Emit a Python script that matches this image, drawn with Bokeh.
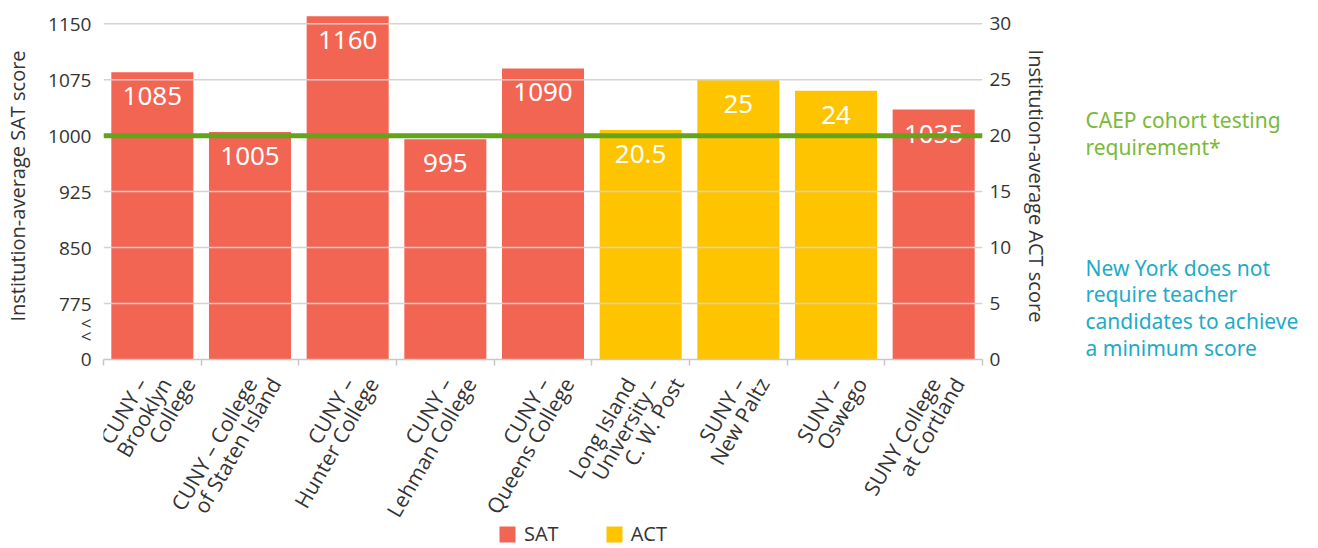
from bokeh.plotting import figure
from bokeh.layouts import row, column
from bokeh.models import (Range1d, LinearAxis, FixedTicker, Label, Legend, LegendItem,
                          ColumnDataSource, Span)
from bokeh.core.properties import value
from bokeh.embed import file_html
from bokeh.resources import INLINE
import math

# ---- data ----
schools = ["CUNY –\nBrooklyn\nCollege", "CUNY – College\nof Staten Island", "CUNY –\nHunter College",
           "CUNY –\nLehman College", "CUNY –\nQueens College", "Long Island\nUniversity –\nC. W. Post",
           "SUNY –\nNew Paltz", "SUNY –\nOswego", "SUNY College\nat Cortland"]
tests = ["SAT", "SAT", "SAT", "SAT", "SAT", "ACT", "ACT", "ACT", "SAT"]
scores = [1085, 1005, 1160, 995, 1090, 20.5, 25, 24, 1035]
sat_ticks = [700, 775, 850, 925, 1000, 1075, 1150]
sat_tick_labels = ["0", "775", "850", "925", "1000", "1075", "1150"]
act_ticks = [0, 5, 10, 15, 20, 25, 30]
caep_sat = 1000
caep_text = "CAEP cohort testing\nrequirement*"
ny_text = "New York does not\nrequire teacher\ncandidates to achieve\na minimum score"

SAT_COLOR = "#F26552"
ACT_COLOR = "#FFC400"
GREEN = "#62A51B"
FONT = "Open Sans"
FONT2 = "Noto Sans"
GRAY = "#C8C8C8"

n = len(schools)
pos = [i + 0.5 for i in range(n)]
sat_src = ColumnDataSource(dict(
    x=[p_ for p_, t in zip(pos, tests) if t == "SAT"],
    top=[s for s, t in zip(scores, tests) if t == "SAT"],
    lab=[str(s) for s, t in zip(scores, tests) if t == "SAT"]))
act_src = ColumnDataSource(dict(
    x=[p_ for p_, t in zip(pos, tests) if t == "ACT"],
    top=[s for s, t in zip(scores, tests) if t == "ACT"],
    lab=[("%g" % s) for s, t in zip(scores, tests) if t == "ACT"]))

BL, BR = 103, 95
BT, BB = 12, 12
MAIN_W, MAIN_H = BL + 879 + BR, BT + 347 + BB
BOT_H = 176
SIDE_W = 1300 - MAIN_W

# ---------------- main chart ----------------
p = figure(width=MAIN_W, height=MAIN_H, output_backend="svg", toolbar_location=None,
           x_range=Range1d(0, n), y_range=Range1d(700, 1165),
           min_border_left=BL, min_border_right=BR, min_border_top=BT, min_border_bottom=BB,
           x_axis_location=None, y_axis_location=None)
p.outline_line_color = None
p.extra_y_ranges = {"act": Range1d(0, 31)}
p.xgrid.visible = False
p.ygrid.visible = False

for t in sat_ticks[1:]:
    p.add_layout(Span(location=t, dimension="width", line_color="#D3D3D3", line_width=1.5))

overrides = {t: l for t, l in zip(sat_ticks, sat_tick_labels)}
overrides[749] = "<"
overrides[731] = "<"
left = LinearAxis(ticker=FixedTicker(ticks=sat_ticks + [749, 731]),
                  major_label_overrides=overrides,
                  axis_label="Institution-average SAT score")
right = LinearAxis(y_range_name="act", ticker=FixedTicker(ticks=act_ticks),
                   axis_label="Institution-average ACT score")
for ax in (left, right):
    ax.axis_line_color = None
    ax.major_tick_line_color = None
    ax.minor_tick_line_color = None
    ax.major_tick_out = 0
    ax.major_tick_in = 0
    ax.minor_tick_out = 0
    ax.minor_tick_in = 0
    ax.major_label_text_font = FONT
    ax.major_label_text_font_size = "19px"
    ax.major_label_text_color = "#333333"
    ax.axis_label_text_font = FONT
    ax.axis_label_text_font_size = "20px"
    ax.axis_label_text_font_style = "normal"
    ax.axis_label_text_color = "#333333"
left.major_label_standoff = 12
left.axis_label_standoff = 14
right.major_label_standoff = 7
right.axis_label_standoff = 9
p.add_layout(left, "left")
p.add_layout(right, "right")

# category axis line with separator ticks between the bars (labels drawn below)
bottom = LinearAxis(ticker=FixedTicker(ticks=[], minor_ticks=list(range(n + 1))))
bottom.axis_line_color = GRAY
bottom.axis_line_width = 1.5
bottom.major_tick_line_color = None
bottom.major_tick_out = 0
bottom.major_tick_in = 0
bottom.minor_tick_line_color = GRAY
bottom.minor_tick_line_width = 1.5
bottom.minor_tick_in = 0
bottom.minor_tick_out = 6
bottom.major_label_standoff = 0
bottom.major_label_text_font_size = "0px"
p.add_layout(bottom, "below")

r_sat = p.vbar(x="x", top="top", bottom=700, width=0.84, source=sat_src,
               fill_color=SAT_COLOR, line_color=None)
r_act = p.vbar(x="x", top="top", bottom=0, width=0.84, source=act_src, y_range_name="act",
               fill_color=ACT_COLOR, line_color=None)

for src, rn in ((sat_src, "default"), (act_src, "act")):
    p.text(x="x", y="top", text="lab", source=src, y_range_name=rn,
           text_align="center", text_baseline="top", y_offset=15,
           text_color="white", text_font=value(FONT2), text_font_size="26px")

p.add_layout(Span(location=caep_sat, dimension="width", line_color=GREEN, line_width=5))

# ---------------- category labels + legend ----------------
b = figure(width=MAIN_W, height=BOT_H, output_backend="svg", toolbar_location=None,
           x_range=p.x_range, y_range=Range1d(-BOT_H, 0),
           min_border_left=BL, min_border_right=BR, min_border_top=0, min_border_bottom=0,
           x_axis_location=None, y_axis_location=None)
b.outline_line_color = None
b.xgrid.visible = False
b.ygrid.visible = False

lx, lt, lo = [], [], []
for x, s_ in zip(pos, schools):
    lines = s_.split("\n")
    k = len(lines)
    for j, ln in enumerate(lines):
        lx.append(x)
        lt.append(ln)
        lo.append((j - (k - 1) / 2) * 24 + 1)
lab_src = ColumnDataSource(dict(x=lx, text=lt, xo=lo))
b.text(x="x", y=-1, text="text", x_offset="xo", source=lab_src, angle=math.pi / 3,
       text_align="right", text_baseline="top", text_color="#333333",
       text_font=value(FONT), text_font_size="21px")

# legend swatches (kept outside the visible range, only their legend glyphs show)
d_sat = b.vbar(x=[-5], top=[-500], bottom=[-600], width=0.5, fill_color=SAT_COLOR, line_color=None)
d_act = b.vbar(x=[-5], top=[-500], bottom=[-600], width=0.5, fill_color=ACT_COLOR, line_color=None)
legend = Legend(items=[LegendItem(label="SAT", renderers=[d_sat]),
                       LegendItem(label="ACT", renderers=[d_act])],
                orientation="horizontal", location=(394, 0), padding=0, margin=0,
                spacing=45, glyph_width=20, glyph_height=20, label_standoff=7,
                label_text_font=FONT, label_text_font_size="20px", label_text_color="#333333",
                border_line_color=None, background_fill_alpha=0)
b.add_layout(legend, "center")

# ---------------- side notes ----------------
s = figure(width=SIDE_W, height=MAIN_H + BOT_H, output_backend="svg", toolbar_location=None,
           x_range=Range1d(0, SIDE_W), y_range=Range1d(MAIN_H + BOT_H, 0),
           min_border=0, x_axis_location=None, y_axis_location=None)
s.outline_line_color = None
s.xgrid.visible = False
s.ygrid.visible = False
s.add_layout(Label(x=8, y=105, text=caep_text, text_baseline="top", text_align="left",
                   text_color="#7AB93A", text_font=FONT2, text_font_size="21px",
                   text_line_height=0.98))
s.add_layout(Label(x=8, y=253, text=ny_text, text_baseline="top", text_align="left",
                   text_color="#1EABC8", text_font=FONT2, text_font_size="21px",
                   text_line_height=0.96))

layout = row(column(p, b), s)
open("out.html", "w").write(file_html(layout, INLINE))
